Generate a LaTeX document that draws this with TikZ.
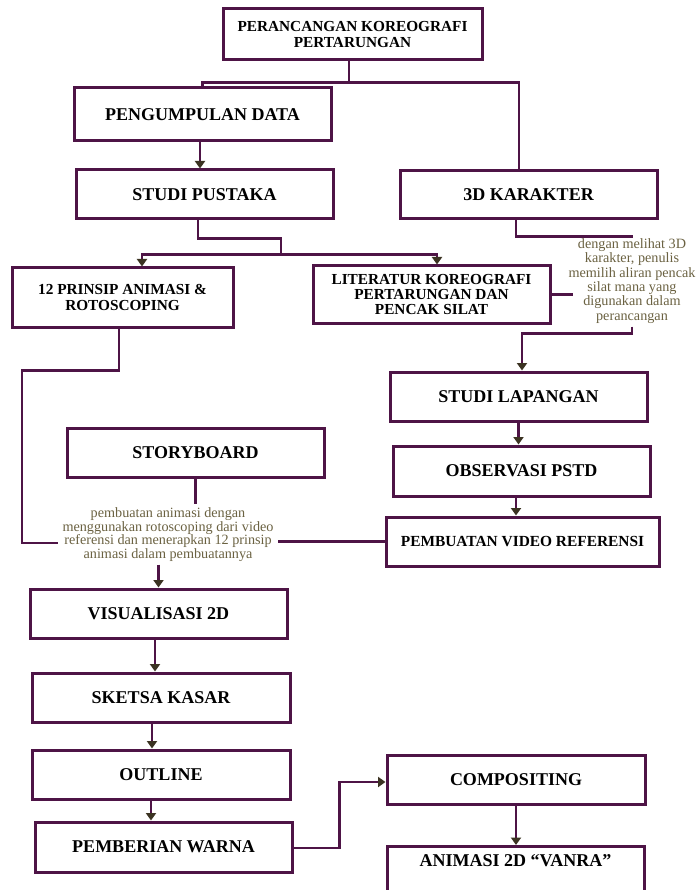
\documentclass[tikz,border=0pt]{standalone}
\usepackage{fontspec}
\setmainfont{Liberation Serif}
\usetikzlibrary{arrows.meta,calc}
\definecolor{boxcol}{HTML}{4E1446}
\definecolor{arrcol}{HTML}{3B3322}
\definecolor{notecol}{HTML}{6B6242}
\begin{document}
\begin{tikzpicture}[x=1pt,y=-1pt,
  box/.style={draw=boxcol, line width=3pt, fill=white, inner sep=0pt, text=black,
    font=\fontsize{18}{18}\selectfont\bfseries, minimum width=257pt, minimum height=49pt},
  boxtwo/.style={box, align=center, font=\fontsize{15.3}{15.4}\selectfont\bfseries},
  conn/.style={draw=boxcol, line width=2.8pt},
  arr/.style={conn, -{Triangle[length=7.5pt,width=10pt,color=arrcol,fill=arrcol]}},
  note/.style={text=notecol, align=center, inner xsep=4pt, inner ysep=3pt}]
\fill[white] (0,0) rectangle (699,890);
\clip (0,0) rectangle (699,890);
% boxes
\node[boxtwo, minimum width=259pt, minimum height=51pt] (top) at (352.5,34.5) {PERANCANGAN KOREOGRAFI\\PERTARUNGAN};
\node[box, minimum height=53pt] (pd) at (202.5,114.5) {PENGUMPULAN DATA};
\node[box] (sp) at (204.5,194.5) {STUDI PUSTAKA};
\node[box, minimum height=48pt] (k3d) at (528.5,195) {3D KARAKTER};
\node[boxtwo, minimum width=221pt, minimum height=59pt] (prinsip) at (122.5,297.5) {12 PRINSIP ANIMASI \&\\ROTOSCOPING};
\node[boxtwo, minimum width=237pt, minimum height=57pt] (lit) at (431.5,294.5) {LITERATUR KOREOGRAFI\\PERTARUNGAN DAN\\PENCAK SILAT};
\node[note, font=\fontsize{14.2}{14.4}\selectfont] (n1) at (632,281) {dengan melihat 3D\\karakter, penulis\\memilih aliran pencak\\silat mana yang\\digunakan dalam\\perancangan};
\node[box] (sl) at (518.5,396.5) {STUDI LAPANGAN};
\node[box] (sb) at (195.5,452.5) {STORYBOARD};
\node[box, minimum height=50pt] (obs) at (521.5,471) {OBSERVASI PSTD};
\node[box, minimum width=273pt, font=\fontsize{15.4}{15.4}\selectfont\bfseries] (pvr) at (522.5,541.5) {PEMBUATAN VIDEO REFERENSI};
\node[note, font=\fontsize{14.2}{13.6}\selectfont] (n2) at (168,534.5) {pembuatan animasi dengan\\menggunakan rotoscoping dari video\\referensi dan menerapkan 12 prinsip\\animasi dalam pembuatannya};
\node[box] (vis) at (158.5,613.5) {VISUALISASI 2D};
\node[box, minimum width=258pt] (sk) at (161,697.5) {SKETSA KASAR};
\node[box, minimum width=258pt] (ol) at (161,774.5) {OUTLINE};
\node[box, minimum height=50pt] (pw) at (163.5,847) {PEMBERIAN WARNA};
\node[box, minimum width=258pt] (comp) at (516,779.5) {COMPOSITING};
\node[box, anchor=north, text height=20pt, text depth=36pt] (anim) at (515.5,845) {ANIMASI 2D “VANRA”};
% connectors
\coordinate (j1) at ($(top.south)+(-3.5,21)$);
\draw[conn] ($(top.south)+(-3.5,0)$) -- (j1);
\draw[conn] (pd.north) |- (j1) -| ($(k3d.north)+(-9.5,0)$);
\draw[arr] ($(pd.south)+(-2.5,0)$) -- ($(sp.north)+(-4.5,0)$);
\coordinate (j2) at ($(sp.south)+(76.5,34)$);
\draw[conn] ($(sp.south)+(-6.5,0)$) -- ++(0,18) -| (j2);
\draw[arr] (j2) -| ($(prinsip.north)+(19.5,0)$);
\draw[arr] (j2) -| ($(lit.north)+(5.5,0)$);
\draw[conn] ($(k3d.south)+(-12.5,0)$) -- ++(0,16) -| (n1.north);
\draw[conn] (lit.east) -- ($(lit.east -| n1.west)+(9,0)$);
\draw[arr] (n1.south) -- ++(0,7) -| ($(sl.north)+(3.5,0)$);
\coordinate (c1) at ($(prinsip.south)+(-100.5,42)$);
\draw[conn] ($(prinsip.south)+(-3.5,0)$) |- (c1) |- ($(n2.west)+(0,8.5)$);
\draw[conn] (pvr.west) -- (pvr.west -| n2.east);
\draw[conn] (sb.south) -- (sb.south |- n2.north);
\draw[arr] (n2.south -| vis.north) -- (vis.north);
\draw[arr] (sl.south) -- ($(obs.north)+(-3,0)$);
\draw[arr] ($(obs.south)+(-5.5,0)$) -- ($(pvr.north)+(-6.5,0)$);
\draw[arr] ($(vis.south)+(-3.5,0)$) -- ($(sk.north)+(-6,0)$);
\draw[arr] ($(sk.south)+(-9,0)$) -- ($(ol.north)+(-9,0)$);
\draw[arr] ($(ol.south)+(-10,0)$) -- ($(pw.north)+(-12.5,0)$);
\draw[arr] ($(pw.east)+(0,1)$) -- ++(46,0) |- ($(comp.west)+(0,2.5)$);
\draw[arr] (comp.south) -- (comp.south |- anim.north);
\end{tikzpicture}
\end{document}
